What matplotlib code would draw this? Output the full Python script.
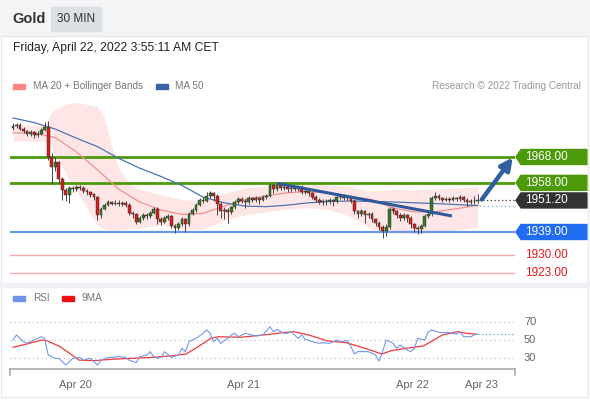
import matplotlib
matplotlib.use("Agg")
import matplotlib.pyplot as plt
from matplotlib.patches import Rectangle, Polygon
from matplotlib.transforms import blended_transform_factory

plt.rcParams['font.family'] = ['Liberation Sans', 'DejaVu Sans']

W, H = 590, 400

# 30 min candles, Gold
opens = [1979.2, 1980.0, 1980.5, 1979.0, 1978.0, 1977.0, 1977.5, 1976.5, 1977.0, 1978.5,
         1979.5, 1968.0, 1964.0, 1966.0, 1959.5, 1955.2, 1953.5, 1956.0, 1955.5, 1956.5,
         1956.0, 1955.0, 1954.5, 1953.5, 1952.5, 1945.6, 1948.0, 1949.5, 1950.5, 1950.0,
         1950.2, 1949.8, 1950.3, 1949.6, 1946.5, 1945.8, 1943.0, 1944.5, 1945.5, 1945.0,
         1946.5, 1948.0, 1944.0, 1943.0, 1944.5, 1945.0, 1941.5, 1940.5, 1942.0, 1944.0,
         1942.0, 1946.0, 1947.5, 1949.5, 1951.5, 1951.0, 1953.0, 1954.0, 1953.0, 1950.0,
         1947.0, 1947.5, 1946.8, 1948.5, 1950.5, 1951.8, 1951.0, 1950.5, 1952.0, 1951.5,
         1952.0, 1951.5, 1952.5, 1953.0, 1957.0, 1955.5, 1957.0, 1956.0, 1956.5, 1955.5,
         1956.0, 1955.5, 1956.5, 1954.5, 1955.0, 1954.0, 1952.5, 1951.5, 1950.5, 1951.0,
         1950.8, 1951.3, 1951.0, 1952.5, 1953.0, 1952.0, 1952.5, 1951.0, 1947.0, 1946.0,
         1947.0, 1945.5, 1946.0, 1944.0, 1942.5, 1941.0, 1939.5, 1941.0, 1948.0, 1947.0,
         1945.5, 1944.5, 1945.5, 1944.5, 1942.0, 1940.5, 1940.0, 1941.5, 1945.0, 1946.0,
         1952.0, 1953.0, 1952.0, 1951.5, 1951.8, 1951.5, 1952.0, 1951.8, 1952.5, 1951.5,
         1950.5, 1951.0, 1950.8]
closes = [1980.0, 1980.5, 1979.0, 1978.0, 1977.0, 1977.5, 1976.5, 1977.0, 1978.5, 1979.5,
          1968.0, 1964.0, 1966.0, 1959.5, 1955.2, 1953.5, 1956.0, 1955.5, 1956.5, 1956.0,
          1955.0, 1954.5, 1953.5, 1952.5, 1945.6, 1948.0, 1949.5, 1950.5, 1950.0, 1950.2,
          1949.8, 1950.3, 1949.6, 1946.5, 1945.8, 1943.0, 1944.5, 1945.5, 1945.0, 1946.5,
          1948.0, 1944.0, 1943.0, 1944.5, 1945.0, 1941.5, 1940.5, 1942.0, 1944.0, 1942.0,
          1946.0, 1947.5, 1949.5, 1951.5, 1951.0, 1953.0, 1954.0, 1953.0, 1950.0, 1947.0,
          1947.5, 1946.8, 1948.5, 1950.5, 1951.8, 1951.0, 1950.5, 1952.0, 1951.5, 1952.0,
          1951.5, 1952.5, 1953.0, 1957.0, 1955.5, 1957.0, 1956.0, 1956.5, 1955.5, 1956.0,
          1955.5, 1956.5, 1954.5, 1955.0, 1954.0, 1952.5, 1951.5, 1950.5, 1951.0, 1950.8,
          1951.3, 1951.0, 1952.5, 1953.0, 1952.0, 1952.5, 1951.0, 1947.0, 1946.0, 1947.0,
          1945.5, 1946.0, 1944.0, 1942.5, 1941.0, 1939.5, 1941.0, 1948.0, 1947.0, 1945.5,
          1944.5, 1945.5, 1944.5, 1942.0, 1940.5, 1940.0, 1941.5, 1945.0, 1946.0, 1952.0,
          1953.0, 1952.0, 1951.5, 1951.8, 1951.5, 1952.0, 1951.8, 1952.5, 1951.5, 1950.5,
          1951.0, 1950.8, 1951.2]
highs = [1981.0, 1981.3, 1981.0, 1979.6, 1978.6, 1978.3, 1978.2, 1977.9, 1979.2, 1981.5,
         1982.0, 1969.5, 1968.0, 1966.5, 1960.2, 1956.0, 1956.8, 1956.7, 1957.3, 1957.2,
         1956.6, 1955.8, 1955.0, 1954.2, 1953.0, 1948.8, 1950.3, 1951.2, 1951.0, 1951.2,
         1951.5, 1951.0, 1951.1, 1950.2, 1947.2, 1946.4, 1945.2, 1946.3, 1946.2, 1947.3,
         1948.8, 1948.6, 1944.8, 1945.3, 1946.0, 1945.7, 1942.2, 1942.9, 1944.8, 1944.6,
         1946.7, 1948.3, 1950.2, 1952.3, 1952.6, 1954.4, 1954.8, 1954.6, 1953.6, 1950.6,
         1948.8, 1948.3, 1949.2, 1951.2, 1952.6, 1952.5, 1951.6, 1952.8, 1952.6, 1953.0,
         1952.6, 1953.4, 1953.8, 1957.9, 1957.6, 1958.4, 1957.7, 1957.5, 1957.2, 1956.9,
         1956.7, 1957.3, 1957.0, 1955.9, 1955.6, 1954.6, 1953.2, 1952.1, 1951.8, 1951.7,
         1952.0, 1951.9, 1953.1, 1953.8, 1953.6, 1953.4, 1953.0, 1951.6, 1947.7, 1947.9,
         1947.6, 1946.9, 1946.6, 1944.6, 1943.2, 1941.6, 1941.9, 1948.8, 1948.6, 1947.6,
         1946.2, 1946.4, 1946.1, 1945.0, 1942.6, 1941.2, 1942.2, 1945.8, 1947.2, 1952.8,
         1954.4, 1953.6, 1952.6, 1952.6, 1952.5, 1952.8, 1952.6, 1953.3, 1953.0, 1952.1,
         1951.8, 1952.9, 1953.6]
lows = [1978.5, 1979.3, 1978.3, 1977.2, 1976.0, 1976.3, 1975.5, 1975.8, 1976.5, 1978.0,
        1967.0, 1957.5, 1962.5, 1958.0, 1951.4, 1951.0, 1950.4, 1954.6, 1954.8, 1955.2,
        1954.2, 1953.5, 1952.6, 1951.5, 1943.6, 1944.5, 1947.4, 1949.0, 1949.4, 1949.3,
        1949.0, 1949.2, 1948.7, 1945.5, 1944.6, 1942.0, 1942.3, 1943.8, 1944.0, 1944.3,
        1945.8, 1942.2, 1941.8, 1942.4, 1943.8, 1940.5, 1938.8, 1939.8, 1941.3, 1938.9,
        1941.4, 1945.4, 1946.9, 1948.9, 1950.2, 1950.5, 1952.2, 1950.8, 1945.5, 1944.5,
        1944.2, 1942.6, 1946.0, 1947.8, 1950.0, 1950.2, 1948.2, 1949.9, 1950.6, 1950.7,
        1949.8, 1950.8, 1951.6, 1952.4, 1954.2, 1954.8, 1955.2, 1955.1, 1954.4, 1954.6,
        1954.8, 1954.9, 1953.6, 1953.8, 1953.0, 1951.6, 1950.5, 1949.8, 1949.6, 1949.4,
        1950.0, 1949.2, 1950.4, 1951.9, 1951.2, 1951.3, 1950.2, 1946.0, 1944.3, 1945.0,
        1942.6, 1944.6, 1942.8, 1941.2, 1939.8, 1936.8, 1937.6, 1940.2, 1945.8, 1944.4,
        1943.2, 1943.6, 1942.8, 1940.6, 1938.9, 1938.3, 1938.8, 1940.8, 1944.3, 1945.2,
        1951.3, 1951.2, 1950.6, 1950.8, 1950.7, 1950.9, 1950.9, 1951.1, 1950.6, 1949.2,
        1949.9, 1950.0, 1950.2]

ma_idx = [0, 6, 12, 18, 24, 30, 36, 42, 48, 54, 60, 66, 72, 78, 84, 90, 96, 102, 108, 114, 120, 126, 132]
ma20 = [1977.3, 1977.3, 1975.5, 1970.0, 1963.0, 1955.6, 1950.6, 1947.5, 1945.8, 1946.2, 1949.0, 1951.5,
        1953.0, 1954.2, 1954.6, 1954.0, 1952.8, 1951.5, 1948.3, 1946.8, 1946.8, 1948.0, 1949.4]
ma50 = [1983.1, 1981.3, 1978.8, 1975.3, 1972.0, 1967.5, 1963.7, 1960.5, 1957.0, 1952.5, 1950.3, 1949.0,
        1948.8, 1949.4, 1950.3, 1950.8, 1951.0, 1950.8, 1950.6, 1950.3, 1950.0, 1949.6, 1949.2]

band_idx = [0, 5, 9, 11, 14, 18, 24, 26, 28, 30, 33, 36, 42, 48, 54, 60, 66, 72, 78, 84, 90, 96, 99,
            102, 108, 114, 120, 126, 132]
band_up = [1979.8, 1980.2, 1980.5, 1985.5, 1988.0, 1989.2, 1987.5, 1983.0, 1972.5, 1964.0, 1957.8,
           1955.5, 1953.5, 1951.5, 1951.0, 1954.0, 1956.0, 1956.8, 1958.0, 1957.8, 1957.2, 1956.4,
           1955.5, 1954.8, 1955.4, 1955.3, 1955.6, 1956.0, 1956.4]
band_lo = [1974.3, 1974.0, 1974.2, 1971.0, 1964.0, 1955.0, 1941.5, 1940.3, 1939.8, 1939.8, 1940.2,
           1940.5, 1941.8, 1940.2, 1940.0, 1943.5, 1945.6, 1946.8, 1947.9, 1948.4, 1947.5, 1945.0,
           1942.5, 1940.0, 1938.8, 1938.4, 1939.0, 1939.8, 1941.0]

trend_idx = [75, 124.7]
trend_val = [1957.8, 1945.2]

resistances = [1968.00, 1958.00]
last_price = 1951.20
support = 1939.00
lower_levels = [1930.00, 1923.00]

rsi_idx = [0, 1, 3, 4, 6, 8, 9, 10, 12, 13, 15, 16, 17, 19, 20, 22, 24, 25, 27, 28, 30, 32, 33, 35,
           36, 38, 39, 40, 41, 42, 43, 45, 47, 48, 49, 50, 52, 54, 55, 56, 57, 58, 59, 61, 62, 63,
           64, 66, 67, 69, 71, 73, 74, 75, 77, 78, 79, 81, 82, 83, 85, 87, 88, 90, 92, 93, 95, 96,
           97, 98, 100, 101, 103, 104, 105, 106, 108, 109, 110, 112, 113, 114, 115, 117, 118, 119,
           121, 123, 124, 126, 127, 128, 130, 131, 132]
rsi = [50, 55.5, 48, 46.4, 50, 53.6, 51.8, 33.6, 30, 30, 22.7, 26.4, 30, 31, 28, 30, 22.7, 28, 31,
       31, 31.8, 31, 28, 25.3, 31.8, 33.6, 37.3, 31.8, 30, 31, 37.3, 31, 33.6, 40.9, 37.3, 48.2,
       51.8, 57.3, 61, 57.3, 48.2, 51.8, 46.4, 51.8, 55.5, 57.3, 53.6, 57.3, 56.5, 54.4, 55.5,
       64.5, 59.1, 61.6, 57.3, 57.3, 59.1, 51.8, 55.5, 50.7, 48.2, 46.4, 47, 46.4, 50, 48.2,
       49.3, 42.7, 34.7, 37.3, 37.3, 37.3, 33.6, 27, 37.3, 50, 46.4, 40.9, 44.5, 39.1, 37.3,
       40.9, 51.8, 50, 59.1, 61, 58.4, 58, 58, 56.5, 59.1, 53.6, 53.6, 55.5, 56.5]
rsi_ma_idx = [0, 4.7, 8.1, 9.6, 13.4, 18.8, 23.1, 28.4, 33.8, 39.1, 44.5, 49.2, 51.9, 56.2, 58.3,
              64.7, 71.1, 76.5, 79.7, 84, 89.4, 94.7, 100, 104.8, 107.5, 111.8, 116.6, 118.7, 122,
              126.2, 128.9, 131.6]
rsi_ma = [42, 46.4, 50, 49.3, 42.7, 28, 27.5, 29, 30, 31, 32.5, 34.7, 41, 51.8, 53.6, 53, 55.5, 58,
          59.1, 55.5, 49, 47, 41, 34.7, 38.4, 41, 43.5, 48.2, 55.5, 59.1, 57.3, 56.5]

date_pos = [17.6, 65.6, 113.4, 133.0]
date_labels = ['Apr 20', 'Apr 21', 'Apr 22', 'Apr 23']

if not (len(opens) == len(closes) == len(highs) == len(lows)):
    raise ValueError((len(opens), len(closes), len(highs), len(lows)))
if len(rsi_idx) != len(rsi) or len(rsi_ma_idx) != len(rsi_ma):
    raise ValueError('rsi lengths')


def box(left, top, width, height):
    return [left / W, 1 - (top + height) / H, width / W, height / H]


def ftext(x, y, s, **kw):
    fig.text(x / W, 1 - y / H, s, **kw)


fig = plt.figure(figsize=(W / 100, H / 100), dpi=100)
fig.patch.set_facecolor('white')

# header + frame
fig.patches.append(Rectangle((0, 1 - 36 / H), 1, 36 / H, transform=fig.transFigure,
                             color='#f3f4f6', zorder=0))
fig.patches.append(Rectangle((51 / W, 1 - 31 / H), 50 / W, 24 / H, transform=fig.transFigure,
                             color='#dcdfe4', zorder=1))
fig.patches.append(Rectangle((1 / W, 1 - 397 / H), 587 / W, 361 / H, transform=fig.transFigure,
                             fill=False, edgecolor='#e6e8eb', lw=1, zorder=1))
fig.patches.append(Rectangle((0, 1 - 287 / H), 1, 4 / H, transform=fig.transFigure,
                             color='#eef0f3', zorder=1))
ftext(12, 19, 'Gold', fontsize=10.5, fontweight='bold', color='#333333', va='center')
ftext(76, 19, '30 MIN', fontsize=8.5, color='#333333', va='center', ha='center')
ftext(13, 48, 'Friday, April 22, 2022 3:55:11 AM CET', fontsize=8.7, color='#222222', va='center')

# legends
fig.patches.append(Rectangle((13 / W, 1 - 88.5 / H), 12 / W, 5 / H, transform=fig.transFigure,
                             color='#ff8585', zorder=2))
ftext(33, 86, 'MA 20 + Bollinger Bands', fontsize=7.2, color='#777777', va='center')
fig.patches.append(Rectangle((156 / W, 1 - 88.5 / H), 12 / W, 5 / H, transform=fig.transFigure,
                             color='#3a62a8', zorder=2))
ftext(175, 86, 'MA 50', fontsize=7.2, color='#777777', va='center')
ftext(581, 86, 'Research \u00a9 2022 Trading Central', fontsize=7.2, color='#999999',
      va='center', ha='right')

fig.patches.append(Rectangle((13 / W, 1 - 300.5 / H), 12 / W, 5 / H, transform=fig.transFigure,
                             color='#6f93e6', zorder=2))
ftext(33, 298, 'RSI', fontsize=7.2, color='#777777', va='center')
fig.patches.append(Rectangle((62 / W, 1 - 300.5 / H), 12 / W, 5 / H, transform=fig.transFigure,
                             color='#ee1111', zorder=2))
ftext(82, 298, '9MA', fontsize=7.2, color='#777777', va='center')

# price panel
ax = fig.add_axes(box(10, 100, 505, 180))
x0, x1 = (10 - 13) / 3.52, (515 - 13) / 3.52
ax.set_xlim(x0, x1)
ax.set_ylim(1920.44, 1990.04)
ax.axis('off')

ax.fill_between(band_idx, band_lo, band_up, color='#ffe6e6', lw=0, zorder=1)
ax.plot(ma_idx, ma20, color='#f59090', lw=0.9, zorder=2)
ax.plot(ma_idx, ma50, color='#4a74b6', lw=0.9, zorder=2)

ax.axhline(lower_levels[0], color='#f6a9a9', lw=1, zorder=1)
ax.axhline(lower_levels[1], color='#f6a9a9', lw=1, zorder=1)
ax.axhline(support, color='#6a98ee', lw=1.6, zorder=1)
for lv in resistances:
    ax.axhline(lv, color='#4c9a0a', lw=2, zorder=1)

for i, (o, h, l, c) in enumerate(zip(opens, highs, lows, closes)):
    col = '#2f7d22' if c >= o else '#d81c1c'
    ax.vlines(i, l, h, color='#444444', lw=0.7, zorder=3)
    ax.bar(i, max(abs(c - o), 0.3), bottom=min(o, c), width=0.8, color=col,
           edgecolor='#333333', lw=0.35, zorder=4)

ax.plot(trend_idx, trend_val, color='#2e5a9c', lw=2.2, zorder=5, solid_capstyle='butt')

end = len(closes) - 0.5
ax.plot([end, x1], [last_price, last_price], color='#333333', lw=0.9, ls=(0, (1, 2)), zorder=2)
ax.plot([end, x1], [ma50[-1], ma50[-1]], color='#9bb8e6', lw=1, ls=(0, (1, 2)), zorder=2)

ax.annotate('', xy=(142.0, 1967.8), xytext=(133.2, 1951.6),
            arrowprops=dict(arrowstyle='-|>,head_width=0.35,head_length=0.7',
                            color='#2f5f9f', lw=3.2, shrinkA=0, shrinkB=0),
            annotation_clip=False, zorder=6)

trans = blended_transform_factory(fig.transFigure, ax.transData)
hh = 7.5 / 2.586


def tag(level, color):
    pts = [(516 / W, level), (521 / W, level + hh), (587 / W, level + hh),
           (587 / W, level - hh), (521 / W, level - hh)]
    ax.add_patch(Polygon(pts, closed=True, transform=trans, color=color, clip_on=False, zorder=6))
    ax.text(525 / W, level, '%.2f' % level, transform=trans, color='white', fontsize=8.5,
            va='center', ha='left', clip_on=False, zorder=7)


tag(resistances[0], '#4c9a0a')
tag(resistances[1], '#4c9a0a')
tag(last_price, '#333333')
tag(support, '#1f6cf0')
for lv in lower_levels:
    ax.text(525 / W, lv, '%.2f' % lv, transform=trans, color='#e51a1a', fontsize=8.5,
            va='center', ha='left', clip_on=False)

# RSI panel
rax = fig.add_axes(box(10, 310, 505, 59.3))
rax.set_xlim(x0, x1)
rax.set_ylim(18, 82.8)
for s in ['top', 'left', 'right']:
    rax.spines[s].set_visible(False)
rax.spines['bottom'].set_color('#aaaaaa')
rax.spines['bottom'].set_linewidth(1.2)
rax.set_yticks([])
rax.set_xticks(date_pos)
rax.set_xticklabels(date_labels)
rax.tick_params(axis='x', length=0, pad=8, labelsize=8, labelcolor='#666666')
for lv in [70, 50, 30]:
    rax.axhline(lv, color='#bbbbbb', lw=0.8, ls=(0, (1, 3)), zorder=1)
    rax.text(524 / W, lv, str(lv), transform=blended_transform_factory(fig.transFigure, rax.transData),
             fontsize=8, color='#666666', va='center', ha='left')
rax.plot([x0, x0], [18, 12], color='#aaaaaa', lw=1.2, clip_on=False)
rax.plot([x1, x1], [18, 12], color='#aaaaaa', lw=1.2, clip_on=False)

rax.plot(rsi_ma_idx, rsi_ma, color='#f03a3a', lw=0.9, zorder=2)
rax.plot(rsi_idx, rsi, color='#7397ea', lw=0.8, zorder=3)
rax.plot([rsi_idx[-1], x1], [rsi[-1], rsi[-1]], color='#7397ea', lw=0.9, ls=(0, (1, 2)), zorder=2)

fig.savefig('out.png', dpi=100)
